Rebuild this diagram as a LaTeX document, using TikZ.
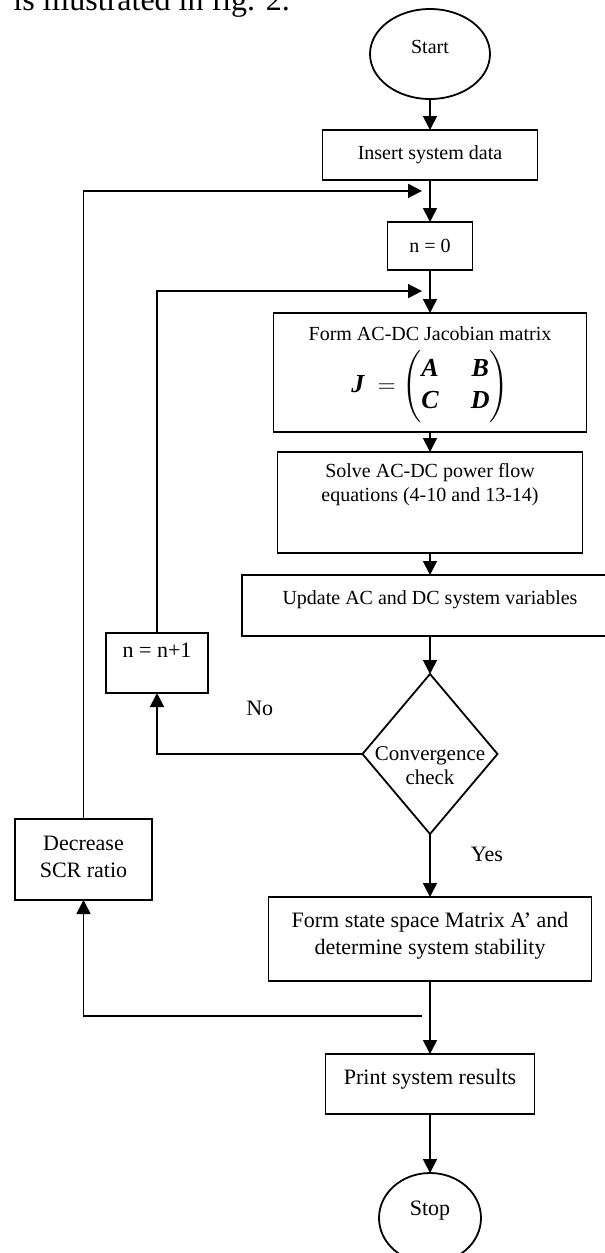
\documentclass[tikz,border=0pt]{standalone}
\usepackage{amsmath}
\usepackage{fontspec}
\setmainfont{Liberation Serif}
\usetikzlibrary{positioning,shapes.geometric,arrows.meta,calc}
\newcommand{\mvar}[1]{\text{\bfseries\itshape #1}}

\begin{document}
\begin{tikzpicture}[x=0.5pt, y=-0.5pt, font=\fontsize{10}{12}\selectfont,
  box/.style={draw, line width=0.9pt, align=center, inner sep=2pt, outer sep=0pt},
  term/.style={ellipse, draw, line width=0.9pt, inner sep=1pt, outer sep=0pt},
  decision/.style={diamond, draw, line width=0.9pt, inner sep=0pt, outer sep=0pt},
  arr/.style={line width=0.9pt, -{Triangle[length=7pt,width=7pt]}},
  big/.style={font=\fontsize{11}{13.5}\selectfont}]
  \useasboundingbox (0,0) rectangle (605,1253);
  \node[anchor=base west, inner sep=0pt, font=\fontsize{16}{19}\selectfont] (intro) at (13,10) {is illustrated in fig. 2.};
  % main column
  \node[term, minimum width=60pt, minimum height=45pt, text depth=7pt] (start) at (430,54) {Start};
  \node[box, minimum width=107.5pt, minimum height=25pt, below=15.5pt of start] (insert) {Insert system data};
  \node[box, minimum width=42.5pt, minimum height=24pt, below=21pt of insert] (n0) {n = 0};
  \node[box, minimum width=156.5pt, minimum height=59.5pt, below=21.5pt of n0, text depth=13pt] (jac)
    {Form AC-DC Jacobian matrix\\[4pt]
     {\fontsize{13}{16}\selectfont\arraycolsep=8pt $\mvar{J}\ =\begin{pmatrix}\mvar{A} & \mvar{B}\\ \mvar{C} & \mvar{D}\end{pmatrix}$}};
  \node[box, minimum width=152.5pt, minimum height=50.5pt, below=10pt of jac, text depth=19.7pt] (solve)
    {Solve AC-DC power flow\\equations (4-10 and 13-14)};
  \node[box, minimum width=188pt, minimum height=30.5pt, below=11pt of solve, text depth=8.2pt] (update)
    {Update AC and DC system variables};
  \node[decision, minimum width=67.5pt, minimum height=80pt, below=19pt of update,
    label={[align=center, yshift=-6pt, font=\fontsize{10.5}{12}\selectfont]center:Convergence\\check}] (conv) {};
  \node[box, big, minimum width=161.5pt, minimum height=42pt, below=31.5pt of conv, text depth=5.4pt] (form)
    {Form state space Matrix A' and\\determine system stability};
  \node[box, big, minimum width=104.5pt, minimum height=30pt, below=36.5pt of form, text depth=7.4pt] (print)
    {Print system results};
  \node[term, big, minimum width=51pt, minimum height=45pt, below=29.5pt of print, text depth=10pt] (stop) {Stop};
  % side boxes
  \node[box, big, minimum width=51pt, minimum height=30pt, text depth=13pt] (nn1) at (157,663) {n = n+1};
  \node[box, big, minimum width=68.5pt, minimum height=40.5pt, text depth=3pt] (dec) at (83.5,859.5) {Decrease\\SCR ratio};
  \coordinate (m1) at ($(insert.south)!0.26!(n0.north)$);
  \coordinate (m2) at ($(n0.south)!0.49!(jac.north)$);
  \coordinate (m3) at ($(form.south)!0.48!(print.north)$);
  % connectors
  \draw[arr] (start) -- (insert);
  \draw[arr] (insert) -- (n0);
  \draw[arr] (n0) -- (jac);
  \draw[arr] (jac) -- (solve);
  \draw[arr] (solve) -- (update);
  \draw[arr] (update) -- (conv);
  \draw[arr] (conv) -- node[pos=0.33, right=20pt, inner sep=0pt, big] {Yes} (form);
  \draw[arr] (form) -- (print);
  \draw[arr] (print) -- (stop);
  \draw[arr] (conv.west) -| node[pos=0.25, above=18.5pt, inner sep=0pt, big] {No} (nn1.south);
  \draw[arr] (nn1.north) |- ([xshift=-4pt]m2);
  \draw[arr] (dec.north) |- ([xshift=-4pt]m1);
  \draw[arr] ([xshift=-4pt]m3) -| (dec.south);
\end{tikzpicture}
\end{document}
